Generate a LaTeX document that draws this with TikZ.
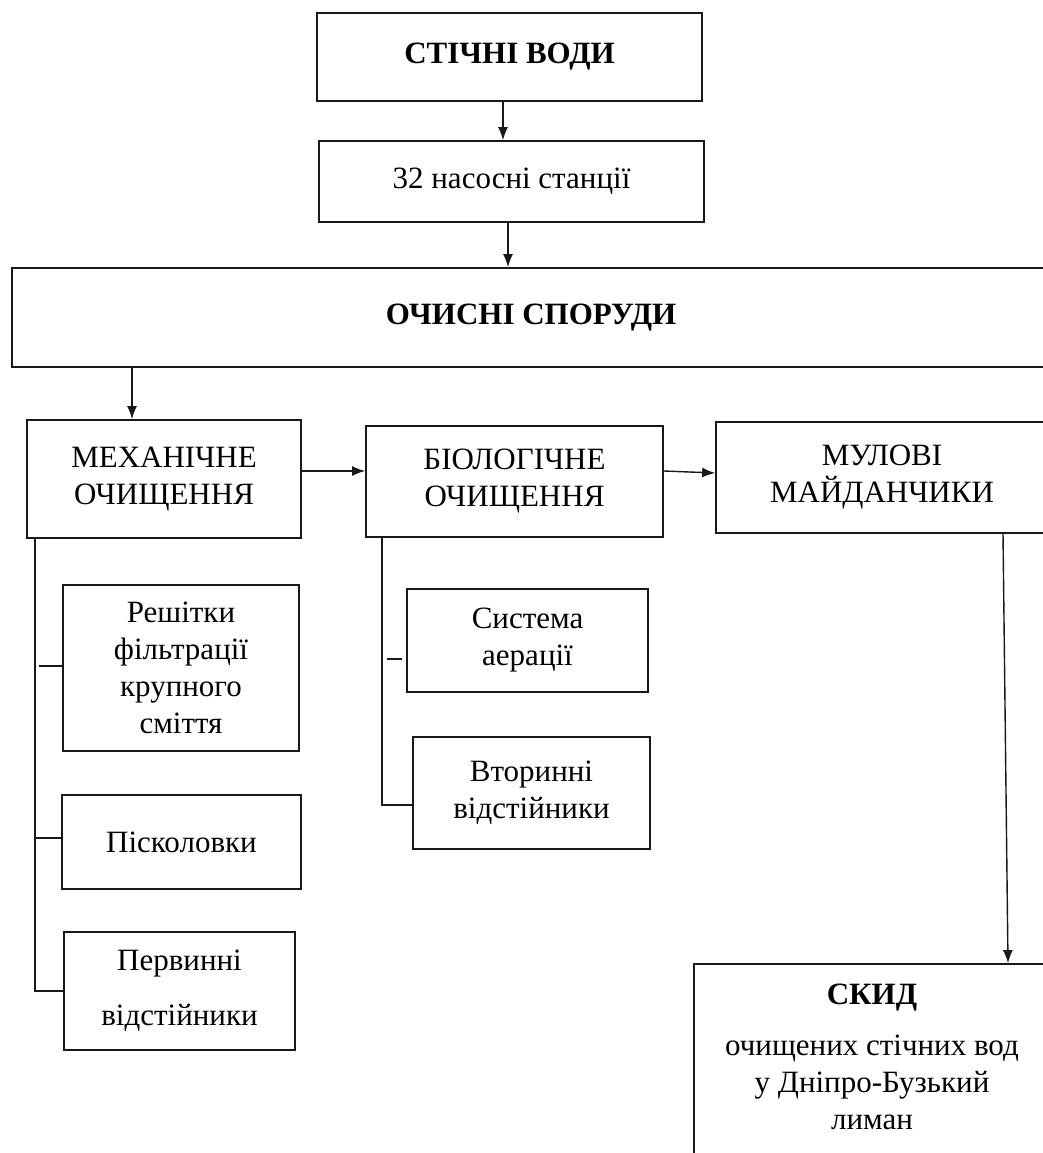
\documentclass[tikz,border=0pt]{standalone}
\usepackage{fontspec}
\setmainfont{Liberation Serif}
\usetikzlibrary{arrows.meta}
\begin{document}
\begin{tikzpicture}[x=1pt,y=-1pt,>={Latex[length=13pt,width=10pt]},
		block/.style={draw=black!90,line width=1.7pt,align=center,inner sep=0pt,font=\rmfamily\fontsize{31}{37}\selectfont},
		link/.style={draw=black!90,line width=1.4pt}]
		\useasboundingbox (0,0) rectangle (1043,1153);
		\node[block,minimum width=385pt,minimum height=88pt] (stichni) at (509.5,57) {\textbf{СТІЧНІ ВОДИ}};
		\node[block,minimum width=385pt,minimum height=81pt] (nasos) at (511.5,181.5) {32 насосні станції};
		\node[block,minimum width=1038pt,minimum height=99pt] (ochysni) at (531,317.5) {\textbf{ОЧИСНІ СПОРУДИ}};
		\node[block,minimum width=274pt,minimum height=118pt] (mekh) at (164,479) {МЕХАНІЧНЕ\\ОЧИЩЕННЯ};
		\node[block,minimum width=297pt,minimum height=111pt] (bio) at (514.5,481.5) {БІОЛОГІЧНЕ\\ОЧИЩЕННЯ};
		\node[block,minimum width=332pt,minimum height=111pt] (mulovi) at (882,477.5) {МУЛОВІ\\МАЙДАНЧИКИ};
		\node[block,minimum width=236pt,minimum height=166pt] (reshitky) at (181,668) {Решітки\\фільтрації\\крупного\\сміття};
		\node[block,minimum width=239pt,minimum height=94pt] (piskol) at (181.5,842) {Пісколовки};
		\node[block,minimum width=231pt,minimum height=118pt] (pervynni) at (179.5,991) {Первинні\\[18pt]відстійники};
		\node[block,minimum width=241pt,minimum height=103pt] (aeracia) at (527.5,640.5) {Система\\аерації};
		\node[block,minimum width=237pt,minimum height=112pt] (vtorynni) at (531.5,793) {Вторинні\\відстійники};
		\node[block,minimum width=356pt,minimum height=206pt] (skid) at (872,1067) {};
		\node[font=\rmfamily\fontsize{31}{37}\selectfont,align=center,inner sep=0pt,anchor=north] (skidtext) at ([yshift=-21pt]skid.north) {\textbf{СКИД}\\[14pt]очищених стічних вод\\у Дніпро-Бузький\\лиман};
		\draw[link,->] ([xshift=-6.5pt]stichni.south) -- ([xshift=-6.5pt]stichni.south |- nasos.north);
		\draw[link,->] ([xshift=-3.5pt]nasos.south) -- ([xshift=-3.5pt]nasos.south |- ochysni.north);
		\draw[link,->] ([xshift=-32pt]mekh.north |- ochysni.south) -- ([xshift=-32pt]mekh.north);
		\draw[link,->] ([yshift=8pt]mekh.east) -- ([yshift=8pt]mekh.east -| bio.west);
		\draw[link,->] ([yshift=10.5pt]bio.east) -- ([yshift=4.5pt]mulovi.west);
		\draw[link,->] ([xshift=121pt]mulovi.south) -- ([xshift=136pt]skid.north);
		\coordinate (mline) at ([xshift=9pt]mekh.south west);
		\draw[link] (mline) |- (pervynni.west);
		\draw[link] ([yshift=2pt]reshitky.west) -- ++(-23,0);
		\draw[link] ([yshift=4pt]piskol.west) -- ([yshift=4pt]piskol.west -| mline);
		\coordinate (bline) at ([xshift=17pt]bio.south west);
		\draw[link] (bline) |- ([yshift=-12pt]vtorynni.west);
		\draw[link] ([xshift=-4pt,yshift=-18.5pt]aeracia.west) -- ++(-15,0);
\end{tikzpicture}
\end{document}
